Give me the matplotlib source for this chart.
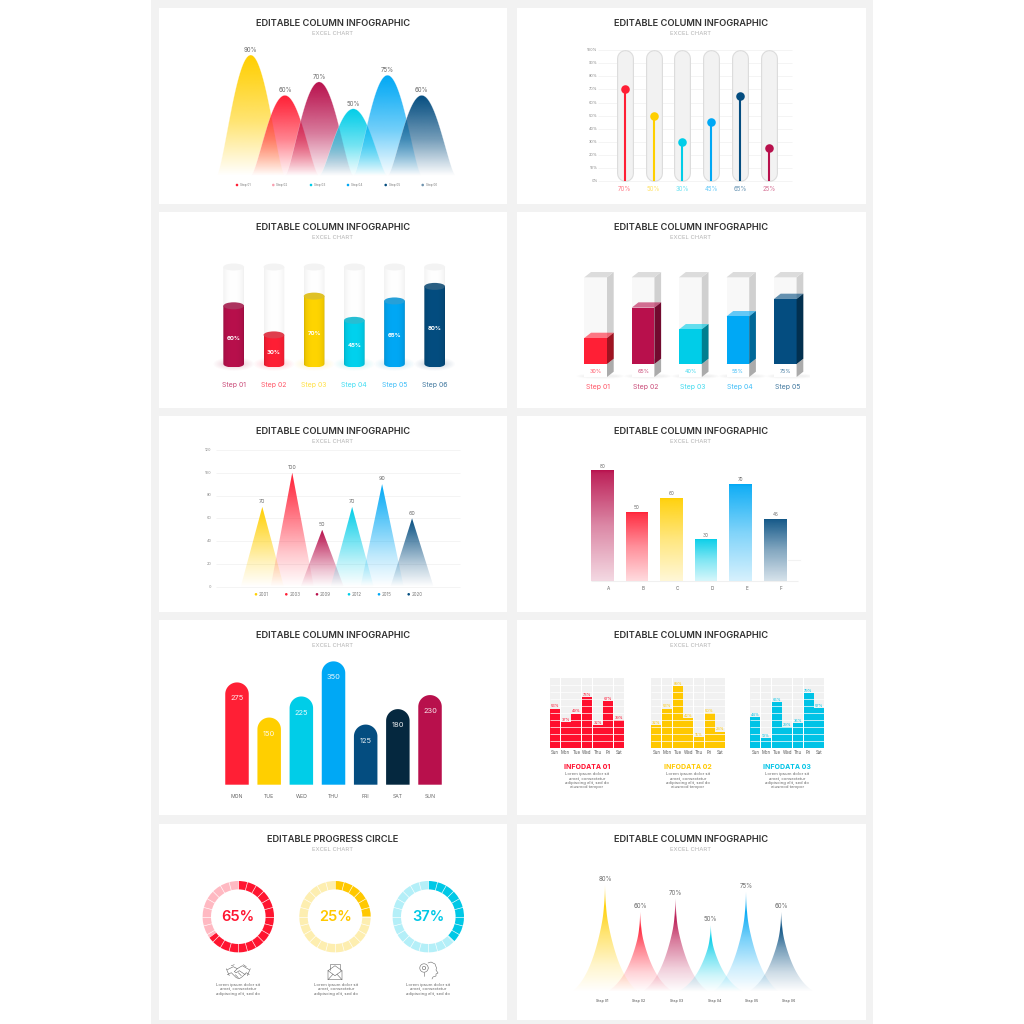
import numpy as np
import matplotlib
matplotlib.use("Agg")
import matplotlib.pyplot as plt
from matplotlib.colors import to_rgb
from matplotlib.patches import Ellipse, Polygon, Rectangle

plt.rcParams['font.family'] = ['Inter', 'DejaVu Sans']

# palette
CRIMSON = '#b8104c'
RED = '#ff1f35'
YELLOW = '#ffcf00'
CYAN = '#00cde8'
SKY = '#00a8f5'
NAVY = '#044d80'
INK = '#05283f'

# bell chart
bell_values = [90, 60, 70, 50, 75, 60]
bell_colors = [YELLOW, RED, CRIMSON, CYAN, SKY, NAVY]
bell_legend = ['Step 01', 'Step 02', 'Step 03', 'Step 04', 'Step 05', 'Step 06']
bell_legend_colors = [RED, '#f7a0b0', CYAN, SKY, NAVY, '#6f93ad']

# lollipop chart
pill_values = [70, 50, 30, 45, 65, 25]
pill_colors = [RED, YELLOW, CYAN, SKY, NAVY, CRIMSON]
pill_ticks = list(range(0, 101, 10))

# cylinders
cyl_values = [60, 30, 70, 45, 65, 80]
cyl_colors = [CRIMSON, RED, '#ffd500', '#00d2ee', SKY, NAVY]
cyl_labels = ['Step 01', 'Step 02', 'Step 03', 'Step 04', 'Step 05', 'Step 06']

# boxes
box_values = [30, 65, 40, 55, 75]
box_colors = [RED, CRIMSON, CYAN, SKY, NAVY]
box_labels = ['Step 01', 'Step 02', 'Step 03', 'Step 04', 'Step 05']

# triangles
tri_values = [70, 100, 50, 70, 90, 60]
tri_colors = [YELLOW, RED, CRIMSON, CYAN, SKY, NAVY]
tri_ticks = [0, 20, 40, 60, 80, 100, 120]
tri_years = ['2001', '2003', '2009', '2012', '2015', '2020']

# fading columns
fade_values = [80, 50, 60, 30, 70, 45]
fade_colors = [CRIMSON, RED, YELLOW, CYAN, SKY, NAVY]
fade_labels = ['A', 'B', 'C', 'D', 'E', 'F']

# rounded columns
round_values = [275, 150, 225, 350, 125, 180, 230]
round_colors = [RED, YELLOW, CYAN, SKY, NAVY, INK, CRIMSON]
round_days = ['MON', 'TUE', 'WED', 'THU', 'FRI', 'SAT', 'SUN']

# small multiples
grid_days = ['Sun', 'Mon', 'Tue', 'Wed', 'Thu', 'Fri', 'Sat']
grid_a = [56, 37, 49, 73, 32, 67, 39]
grid_b = [32, 56, 89, 42, 15, 50, 23]
grid_c = [44, 13, 65, 29, 35, 79, 57]
grid_titles = ['INFODATA 01', 'INFODATA 02', 'INFODATA 03']
grid_colors = ['#ff0f2e', '#ffc800', '#00c3e6']

# progress rings
ring_values = [65, 25, 37]
ring_colors = ['#ff1530', '#ffc800', '#00c8e6']
ring_pale = ['#ffb9c2', '#fdeeb0', '#b4eff8']

# spikes
spike_values = [80, 60, 70, 50, 75, 60]
spike_colors = [YELLOW, RED, CRIMSON, CYAN, SKY, NAVY]
spike_legend = ['Step 01', 'Step 02', 'Step 03', 'Step 04', 'Step 05', 'Step 06']

W, H = 1024, 1024
LEFT_MID, RIGHT_MID = 333, 691
GRAY_TEXT = '#6a6a6a'

fig = plt.figure(figsize=(W / 100, H / 100), dpi=100, facecolor='white')

# pixel canvas underneath everything: cards, titles, legends
base = fig.add_axes([0, 0, 1, 1])
base.set_xlim(0, W)
base.set_ylim(H, 0)
base.axis('off')
base.autoscale(False)


def cat_axes(first, step, zero, unit, box):
    # axes where category i sits at first + i * step px and value v at zero - v * unit px
    left, right, top, bottom = box
    ax = fig.add_axes([left / W, 1 - bottom / H, (right - left) / W, (bottom - top) / H])
    ax.set_xlim((left - first) / step, (right - first) / step)
    ax.set_ylim((zero - bottom) / unit, (zero - top) / unit)
    ax.axis('off')
    ax.patch.set_visible(False)
    ax.autoscale(False)
    return ax


def gradient_fill(ax, xs, ys, color, stops, zorder=2):
    # polygon filled with a vertical colour fade; stops are (fraction from top, alpha)
    pts = np.column_stack([xs, ys])
    clip = Polygon(pts, closed=True, facecolor='none', edgecolor='none')
    ax.add_patch(clip)
    t = np.linspace(0, 1, 256)
    img = np.ones((256, 2, 4))
    img[..., :3] = to_rgb(color)
    img[..., 3] = np.interp(t, [s[0] for s in stops], [s[1] for s in stops])[:, None]
    im = ax.imshow(img, extent=[min(xs), max(xs), min(ys), max(ys)], origin='upper',
                   aspect='auto', interpolation='bilinear', zorder=zorder)
    im.set_clip_path(clip)


def value_labels(ax, values, texts, offset=3.8, size=4.4, colors=None):
    for i, (v, s) in enumerate(zip(values, texts)):
        ax.annotate(s, (i, v), xytext=(0, offset), textcoords='offset points',
                    ha='center', va='center', fontsize=size,
                    color=colors[i] if colors else GRAY_TEXT)


def dot_legend(xs, y, labels, colors, size=2.6):
    base.scatter(xs, [y] * len(xs), s=3.5, c=colors, linewidths=0)
    for x, s in zip(xs, labels):
        base.text(x + 3, y, s, fontsize=size, color='#777777', va='center', ha='left')


def header(cx, top, title='EDITABLE COLUMN INFOGRAPHIC'):
    base.text(cx, top + 16, title, fontsize=6.7, fontweight='semibold', color='#333333',
              ha='center', va='center')
    base.text(cx, top + 25.7, 'EXCEL CHART', fontsize=4.3, color='#b5b5b5',
              ha='center', va='center')


def draw_lines(x0, y0, segments, lw=0.4, color='#666666'):
    for seg in segments:
        seg = np.array(seg, dtype=float)
        base.plot(x0 + seg[:, 0], y0 + seg[:, 1], color=color, lw=lw, solid_capstyle='round')


# page background and cards
base.add_patch(Rectangle((151, 0), 722, H, color='#f2f2f2', lw=0))
card_rows = [(8, 204), (212, 408), (416, 612), (620, 815), (824, 1019.5)]
for top, bottom in card_rows:
    base.add_patch(Rectangle((159, top), 348, bottom - top, color='white', lw=0))
    base.add_patch(Rectangle((516.5, top), 349.5, bottom - top, color='white', lw=0))

for r, (top, _) in enumerate(card_rows):
    header(LEFT_MID, top, 'EDITABLE PROGRESS CIRCLE' if r == 4 else 'EDITABLE COLUMN INFOGRAPHIC')
    header(RIGHT_MID, top)

# --- bell curves ---
ax = cat_axes(250.7, 34.2, 176, 1.344, (205, 470, 40, 180))
t = np.linspace(-1, 1, 201)
bell_shape = (1 - t ** 2) ** 1.55
for i, (v, c) in enumerate(zip(bell_values, bell_colors)):
    gradient_fill(ax, i + t, v * bell_shape, c,
                  [(0, 1.0), (0.2, 0.85), (0.55, 0.55), (0.85, 0.18), (1, 0.0)], zorder=2 + i)
    ax.plot(i + t, v * bell_shape, color='white', lw=0.3, alpha=0.5, zorder=2 + i)
value_labels(ax, bell_values, [f'{v}%' for v in bell_values])
dot_legend([237, 273.3, 311, 348, 385.7, 422.7], 185, bell_legend, bell_legend_colors, size=2.2)

# --- pills with lollipops ---
ppu = 1.313
ax = cat_axes(624.7, 28.8, 181.3, ppu, (590, 795, 44, 194))
ax.hlines(pill_ticks, -0.93, 5.8, color='#f0f0f0', lw=0.5, zorder=1)
cap = 8.0 / ppu
for i, (v, c) in enumerate(zip(pill_values, pill_colors)):
    ax.plot([i, i], [cap, 100 - cap], color='#dcdcdc', lw=12.2, solid_capstyle='round', zorder=2)
    ax.plot([i, i], [cap, 100 - cap], color='#f2f2f2', lw=10.6, solid_capstyle='round', zorder=3)
    ax.plot([i, i], [0, v], color=c, lw=1.5, solid_capstyle='butt', zorder=4)
    ax.scatter([i], [v], s=38, color=c, linewidths=0, zorder=5)
    ax.text(i, -5.6, f'{v}%', fontsize=4.4, color=c, alpha=0.6, ha='center', va='center')
for v in pill_ticks:
    ax.text(-0.94, v, f'{v}%', fontsize=2.8, color='#888888', ha='right', va='center')

# --- cylinders ---
ppu = 0.97
step = 40.2
ax = cat_axes(233.7, step, 364, ppu, (205, 465, 255, 395))
rx = 10.35 / step
ry = 3.5 / ppu
arc = np.linspace(-1, 1, 61)
for i, (v, c) in enumerate(zip(cyl_values, cyl_colors)):
    # coloured ground shadow
    for k in range(7):
        ax.add_patch(Ellipse((i, 0), rx * (2.1 + 0.3 * k), ry * (1.5 + 0.4 * k), color=c,
                             alpha=0.018, lw=0, zorder=1))

    def body(height):
        xs = np.r_[i + rx * arc, i + rx, i - rx]
        ys = np.r_[-ry * np.sqrt(1 - arc ** 2), height, height]
        return xs, ys

    # empty glass part
    xs, ys = body(100)
    clip = Polygon(np.column_stack([xs, ys]), facecolor='none', edgecolor='none')
    ax.add_patch(clip)
    shade = np.linspace(0, 1, 64)
    glass = 0.94 + 0.06 * np.sin(np.pi * shade) ** 0.6
    im = ax.imshow(np.dstack([glass, glass, glass]), extent=[i - rx, i + rx, -ry, 100],
                   aspect='auto', interpolation='bilinear', zorder=2)
    im.set_clip_path(clip)
    ax.add_patch(Ellipse((i, 100), 2 * rx, 2 * ry, color='#f3f3f3', lw=0, zorder=3))

    # filled part
    xs, ys = body(v)
    clip = Polygon(np.column_stack([xs, ys]), facecolor='none', edgecolor='none')
    ax.add_patch(clip)
    light = 0.8 + 0.2 * np.sin(np.pi * shade) ** 0.3
    rgb = np.outer(light, to_rgb(c))[None, :, :]
    im = ax.imshow(rgb, extent=[i - rx, i + rx, -ry, v], aspect='auto',
                   interpolation='bilinear', zorder=4)
    im.set_clip_path(clip)
    top_col = 0.72 * np.array(to_rgb(c)) + 0.28 * np.array([0.55, 0.55, 0.55])
    ax.add_patch(Ellipse((i, v), 2 * rx, 2 * ry, color=top_col, lw=0, zorder=5))
    ax.text(i, v / 2 - 3.6, f'{v}%', fontsize=4.3, fontweight='bold', color='white',
            ha='center', va='center', zorder=6)
    ax.text(i, -21.5, cyl_labels[i], fontsize=5.0, color=c, alpha=0.75, ha='center', va='center')

# --- 3D boxes ---
ppu = 0.867
step = 47.4
ax = cat_axes(595.67, step, 364, ppu, (570, 810, 265, 395))
hw = 11.33 / step
dx = 6.7 / step
dy = 5.3 / ppu
foot = -15.0


def prism(ax, i, y0, y1, front, side, top, top_alpha=1.0, z=2):
    ax.add_patch(Rectangle((i - hw, y0), 2 * hw, y1 - y0, color=front, lw=0, zorder=z))
    ax.add_patch(Polygon([(i + hw, y0), (i + hw + dx, y0 + dy), (i + hw + dx, y1 + dy), (i + hw, y1)],
                         color=side, lw=0, zorder=z))
    ax.add_patch(Polygon([(i - hw, y1), (i + hw, y1), (i + hw + dx, y1 + dy), (i - hw + dx, y1 + dy)],
                         color=top, alpha=top_alpha, lw=0, zorder=z))


for i, (v, c) in enumerate(zip(box_values, box_colors)):
    rgb = np.array(to_rgb(c))
    for k in range(5):
        ax.add_patch(Ellipse((i + 0.1, foot + 1), 2 * hw * (1.5 + 0.15 * k), 2 + 1.2 * k,
                             color='#aaaaaa', alpha=0.03, lw=0, zorder=1))
    prism(ax, i, foot, 0, 'white', '#ababab', '#ababab', z=2)
    prism(ax, i, 0, 100, '#f8f8f8', '#d0d0d0', '#dcdcdc', z=3)
    prism(ax, i, 0, v, c, rgb * 0.62, c, top_alpha=0.6, z=4)
    ax.text(i, foot / 2 - 1, f'{v}%', fontsize=3.9, color=c, alpha=0.75, ha='center', va='center', zorder=6)
    ax.text(i + 0.05, -26.5, box_labels[i], fontsize=5.0, color=c, alpha=0.75, ha='center', va='center')

# --- triangles ---
ppu = 1.14
ax = cat_axes(262.3, 29.95, 586.7, ppu, (205, 465, 444, 590))
ax.hlines(tri_ticks, -1.56, 6.6, color='#f0f0f0', lw=0.5, zorder=1)
for i, (v, c) in enumerate(zip(tri_values, tri_colors)):
    gradient_fill(ax, [i - 0.72, i, i + 0.72], [0, v, 0], c,
                  [(0, 1.0), (0.3, 0.68), (0.7, 0.25), (1, 0.0)], zorder=2 + i)
value_labels(ax, tri_values, [str(v) for v in tri_values], size=3.8)
for v in tri_ticks:
    ax.text(-1.69, v, str(v), fontsize=2.8, color='#888888', ha='right', va='center')
dot_legend([256, 286.3, 317, 349, 379, 408.7], 594.3, tri_years, tri_colors, size=3.2)

# --- fading columns ---
ppu = 1.38
step = 34.6
ax = cat_axes(602.3, step, 580.7, ppu, (585, 805, 455, 600))
ax.hlines(0, -0.33, 5.65, color='#f0f0f0', lw=0.8, zorder=1)
hw = 11.3 / step
for i, (v, c) in enumerate(zip(fade_values, fade_colors)):
    gradient_fill(ax, [i - hw, i + hw, i + hw, i - hw], [0, 0, v, v], c,
                  [(0, 1.0), (0.03, 0.92), (0.5, 0.5), (1, 0.16)], zorder=2)
    ax.text(i + 6 / step, -5.3, fade_labels[i], fontsize=3.4, color='#666666', ha='center', va='center')
value_labels(ax, fade_values, [str(v) for v in fade_values], offset=3.0, size=3.4)
base.plot([788, 800], [559.5, 559.5], color='#f2f2f2', lw=0.8)

# --- rounded columns ---
unit = 0.281
step = 32.17
r_px = 11.75
shadow = np.sin(np.linspace(0, np.pi, 128)) ** 1.5 * 0.3
img = np.zeros((1, 128, 4))
img[0, :, 3] = shadow
base.imshow(img, extent=[200, 480, 786, 783], aspect='auto', interpolation='bilinear')
base.set_xlim(0, W)
base.set_ylim(H, 0)
zero = 784.7 - (25 - r_px)
ax = cat_axes(237, step, zero, unit, (215, 450, 655, 805))
hw = r_px / step
bottom = -(25 - r_px) / unit
ang = np.linspace(0, np.pi, 61)
for i, (v, c) in enumerate(zip(round_values, round_colors)):
    xs = np.r_[i + hw, i + hw * np.cos(ang), i - hw]
    ys = np.r_[bottom, v + r_px / unit * np.sin(ang), bottom]
    ax.add_patch(Polygon(np.column_stack([xs, ys]), color=c, lw=0, zorder=2))
    ax.text(i, v - 4.3 / unit, str(v), fontsize=5.4, color='white', alpha=0.9, ha='center', va='center', zorder=3)
    ax.text(i, bottom - 12 / unit, round_days[i], fontsize=3.7, color='#666666', ha='center', va='center')

# --- small multiples ---
lorem_four = ['Lorem ipsum dolor sit', 'amet, consectetur', 'adipiscing elit, sed do', 'eiusmod tempor']
grid_series = [grid_a, grid_b, grid_c]
grid_left = [549.7, 651, 750]
grid_mid = [587, 688, 787.3]
step = 10.65
for k, vals in enumerate(grid_series):
    c = grid_colors[k]
    first = grid_left[k] + step / 2
    ax = cat_axes(first, step, 747.5, 0.693, (grid_left[k] - 2, grid_left[k] + 77, 676, 757))
    xpos = np.arange(len(vals))
    ax.bar(xpos, [100] * len(vals), width=0.93, color='#f1f1f1', lw=0, zorder=1)
    ax.bar(xpos, vals, width=0.93, color=c, lw=0, zorder=2)
    ax.hlines(np.arange(10, 100, 10), -0.5, 6.5, color='white', lw=0.55, alpha=0.9, zorder=3)
    for i, v in enumerate(vals):
        ax.text(i, v + 3.2, f'{v}%', fontsize=2.8, color=c, ha='center', va='center', zorder=4)
        ax.text(i, -6.5, grid_days[i], fontsize=3.1, color='#555555', ha='center', va='center')
    base.text(grid_mid[k], 767, grid_titles[k], fontsize=5.0, fontweight='bold', color=c,
              ha='center', va='center')
    for j, line in enumerate(lorem_four):
        base.text(grid_mid[k], 774.3 + 4.3 * j, line, fontsize=3.0, color='#666666', ha='center', va='center')

# --- progress rings ---
lorem_three = ['Lorem ipsum dolor sit', 'amet, consectetur', 'adipiscing elit, sed do']
ring_x = [238.3, 335, 428.3]
ring_y = 916.7
ring_r = 35.7
half = ring_r * 1.25
for k, v in enumerate(ring_values):
    ax = fig.add_axes([(ring_x[k] - half) / W, 1 - (ring_y + half) / H, 2 * half / W, 2 * half / H])
    ax.pie([v, 100 - v], colors=[ring_colors[k], ring_pale[k]], startangle=90, counterclock=False,
           radius=1, wedgeprops=dict(width=0.235, linewidth=0))
    ax.patch.set_visible(False)
    for a in np.deg2rad(np.arange(0, 360, 15)):
        ax.plot([0.75 * np.cos(a), 1.02 * np.cos(a)], [0.75 * np.sin(a), 1.02 * np.sin(a)],
                color='white', lw=0.45)
    ax.text(0, 0, f'{v}%', fontsize=10.5, fontweight='semibold', color=ring_colors[k],
            ha='center', va='center')
    for j, line in enumerate(lorem_three):
        base.text(ring_x[k] + (1 if k == 1 else 0), 985 + 4.3 * j, line, fontsize=3.0,
                  color='#666666', ha='center', va='center')

# line icons below the rings
draw_lines(238.3, 972.7, [
    [(-11, -3), (-5, -6), (-1, -4), (4, -7), (11, -3)],
    [(-11, 2), (-7, 0), (-2, 5), (1, 6), (4, 4), (8, 0), (11, 2)],
    [(-1, -4), (-4, -1), (-2, 0), (1, -2), (7, 2)],
    [(-12, -4), (-9, 3)], [(12, -4), (9, 3)],
    [(-3, 2), (0, 5)], [(0, 0), (3, 3)],
    [(-7, -7), (-4, -8)], [(5, -8), (8, -6)],
])
draw_lines(335, 972.7, [
    [(-7, -2), (-7, 7), (7, 7), (7, -2), (0, -7), (-7, -2)],
    [(-7, -2), (0, 3), (7, -2)], [(-7, 7), (-2, 1.5)], [(7, 7), (2, 1.5)],
    [(-5, -3), (-5, -9), (5, -9), (5, -3)],
])
circ = np.linspace(0, 2 * np.pi, 40)
draw_lines(429, 970, [
    np.column_stack([-5 + 4.2 * np.cos(circ), -2 + 4.2 * np.sin(circ)]),
    np.column_stack([-5 + 1.7 * np.cos(circ), -2 + 1.7 * np.sin(circ)]),
    [(-5, 2), (-5, 6)],
    [(-1, -7), (2, -8), (6, -6), (7.5, -2), (7, 0), (9, 3), (7, 4), (7, 6), (4, 7), (3, 9)],
])

# --- spikes ---
unit = 1.333
step = 35.25
ax = cat_axes(605, step, 991.7, unit, (565, 825, 865, 1006))
half = 33 / step
t = np.linspace(-1, 1, 401)
body_curve = (np.exp(-2 * np.abs(t)) - np.exp(-2)) / (1 - np.exp(-2))
profile = 0.2 * np.exp(-40 * np.abs(t)) + 0.8 * body_curve
for i, (v, c) in enumerate(zip(spike_values, spike_colors)):
    gradient_fill(ax, i + half * t, v * profile, c,
                  [(0, 0.4), (0.2, 0.95), (0.45, 0.55), (0.75, 0.2), (1, 0.0)], zorder=2 + i)
value_labels(ax, spike_values, [f'{v}%' for v in spike_values], offset=4.2, size=4.4)
for x, s in zip([602, 639, 676.3, 714.3, 751.7, 789], spike_legend):
    base.text(x, 1000.7, s, fontsize=2.6, color='#444444', ha='center', va='center')

fig.savefig('out.png', dpi=100, facecolor='white')
